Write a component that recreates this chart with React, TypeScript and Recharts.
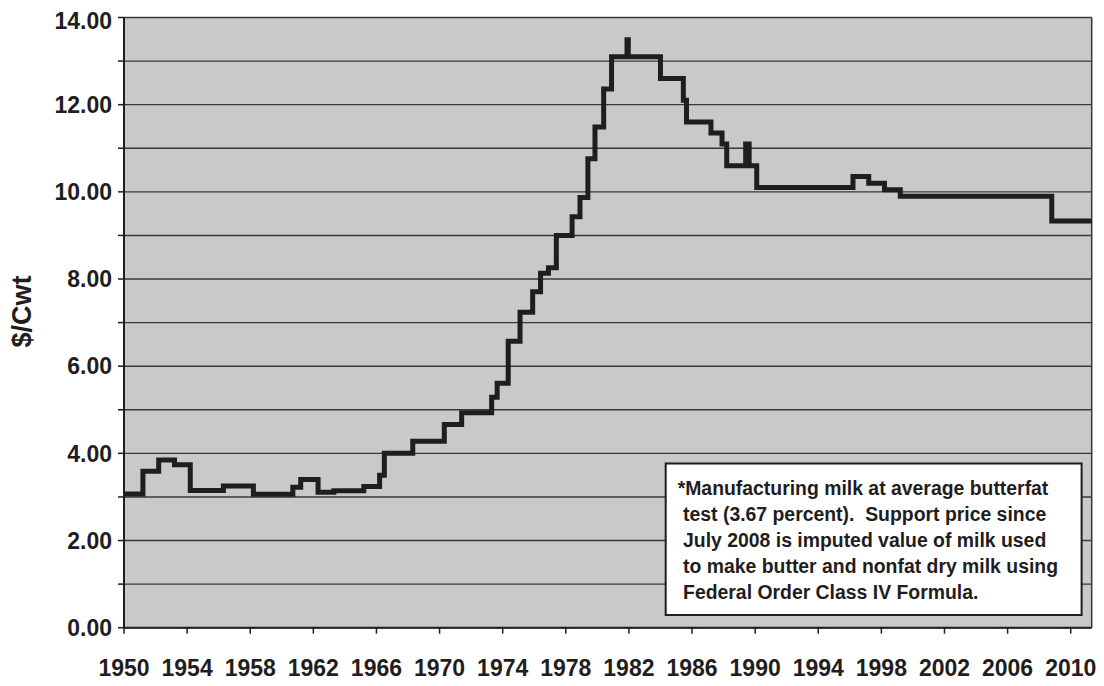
import { CartesianGrid, Label, Line, LineChart, ReferenceArea, ReferenceLine, XAxis, YAxis } from "recharts";

// dates at which the support price changed (decimal years) and the new price in $/cwt
const changeYears = [
  1950.0, 1951.2, 1952.2, 1953.2, 1954.2, 1956.3, 1958.2, 1960.7, 1961.2, 1962.3, 1963.3, 1965.2, 1966.2, 1966.5,
  1968.3, 1970.3, 1971.4, 1973.3, 1973.65, 1974.35, 1975.1, 1975.9, 1976.4, 1976.9, 1977.4, 1978.4, 1978.9, 1979.4,
  1979.85, 1980.4, 1980.9, 1981.88, 1981.96, 1984.0, 1985.45, 1985.65, 1987.2, 1987.9, 1988.2, 1989.4, 1989.62,
  1990.1, 1996.2, 1997.2, 1998.2, 1999.2, 2008.8, 2011.33,
];
const supportPrice = [
  3.07, 3.59, 3.85, 3.74, 3.15, 3.25, 3.06, 3.22, 3.4, 3.11, 3.14, 3.24, 3.5, 4.0,
  4.28, 4.66, 4.93, 5.29, 5.61, 6.57, 7.24, 7.71, 8.13, 8.26, 9.0, 9.43, 9.87, 10.76,
  11.49, 12.36, 13.1, 13.49, 13.1, 12.6, 12.1, 11.6, 11.35, 11.1, 10.6, 11.1, 10.6,
  10.1, 10.35, 10.2, 10.05, 9.9, 9.33, 9.33,
];
const yearTicks = [1950, 1954, 1958, 1962, 1966, 1970, 1974, 1978, 1982, 1986, 1990, 1994, 1998, 2002, 2006, 2010];
const priceTicks = [0, 1, 2, 3, 4, 5, 6, 7, 8, 9, 10, 11, 12, 13, 14];
const noteLines = [
  "*Manufacturing milk at average butterfat",
  " test (3.67 percent).  Support price since",
  " July 2008 is imputed value of milk used",
  " to make butter and nonfat dry milk using",
  " Federal Order Class IV Formula.",
];
// note box corners in data units
const noteYears = [1984.33, 2010.69];
const notePrices = [0.29, 3.77];

const data = changeYears.map((year, i) => ({ year, price: supportPrice[i] }));

const font = "'Liberation Sans', Arial, sans-serif";
const ink = "#1f1d1d";

function NoteText({ viewBox }: any) {
  if (!viewBox) return null;
  return (
    <text fontFamily={font} fontWeight="bold" fontSize={19.4} fill={ink} style={{ whiteSpace: "pre" }}>
      {noteLines.map((line, i) => (
        <tspan key={i} x={viewBox.x + 12} y={viewBox.y + 32 + i * 26}>
          {line}
        </tspan>
      ))}
    </text>
  );
}

function AxisTitle({ viewBox }: any) {
  if (!viewBox) return null;
  const cx = viewBox.x + 14;
  const cy = viewBox.y + viewBox.height / 2 - 11;
  return (
    <text
      x={cx}
      y={cy}
      transform={`rotate(-90 ${cx} ${cy})`}
      textAnchor="middle"
      dominantBaseline="central"
      fontFamily={font}
      fontWeight="bold"
      fontSize={27}
      fill={ink}
    >
      $/Cwt
    </text>
  );
}

export default function App() {
  const tickStyle = { fontSize: 23, fontWeight: "bold", fill: ink, fontFamily: font };
  return (
    <LineChart width={1096} height={678} data={data} margin={{ top: 9.5, right: 12.3, bottom: 8.3, left: 0 }}>
      <CartesianGrid vertical={false} fill="#c8c9cb" fillOpacity={1} stroke="#383838" strokeWidth={1.4} />
      <XAxis
        dataKey="year"
        type="number"
        domain={[1950, 2011.33]}
        ticks={yearTicks}
        allowDataOverflow
        height={50}
        tick={tickStyle}
        tickSize={6}
        tickMargin={26}
        axisLine={{ stroke: ink, strokeWidth: 2 }}
        tickLine={{ stroke: ink, strokeWidth: 1.5 }}
      />
      <YAxis
        domain={[0, 14]}
        ticks={priceTicks}
        width={116}
        tick={tickStyle}
        tickSize={6}
        tickMargin={6}
        tickFormatter={(v: number) => (v % 2 === 0 ? v.toFixed(2) : "")}
        axisLine={{ stroke: ink, strokeWidth: 2 }}
        tickLine={{ stroke: ink, strokeWidth: 1.5 }}
      >
        <Label content={<AxisTitle />} />
      </YAxis>
      <ReferenceLine x={2011.33} stroke="#383838" strokeWidth={1.5} />
      <Line
        type="stepAfter"
        dataKey="price"
        stroke={ink}
        strokeWidth={5}
        dot={false}
        isAnimationActive={false}
      />
      <ReferenceArea
        x1={noteYears[0]}
        x2={noteYears[1]}
        y1={notePrices[0]}
        y2={notePrices[1]}
        fill="#ffffff"
        fillOpacity={1}
        stroke={ink}
        strokeWidth={2}
        ifOverflow="visible"
        label={<NoteText />}
      />
    </LineChart>
  );
}
